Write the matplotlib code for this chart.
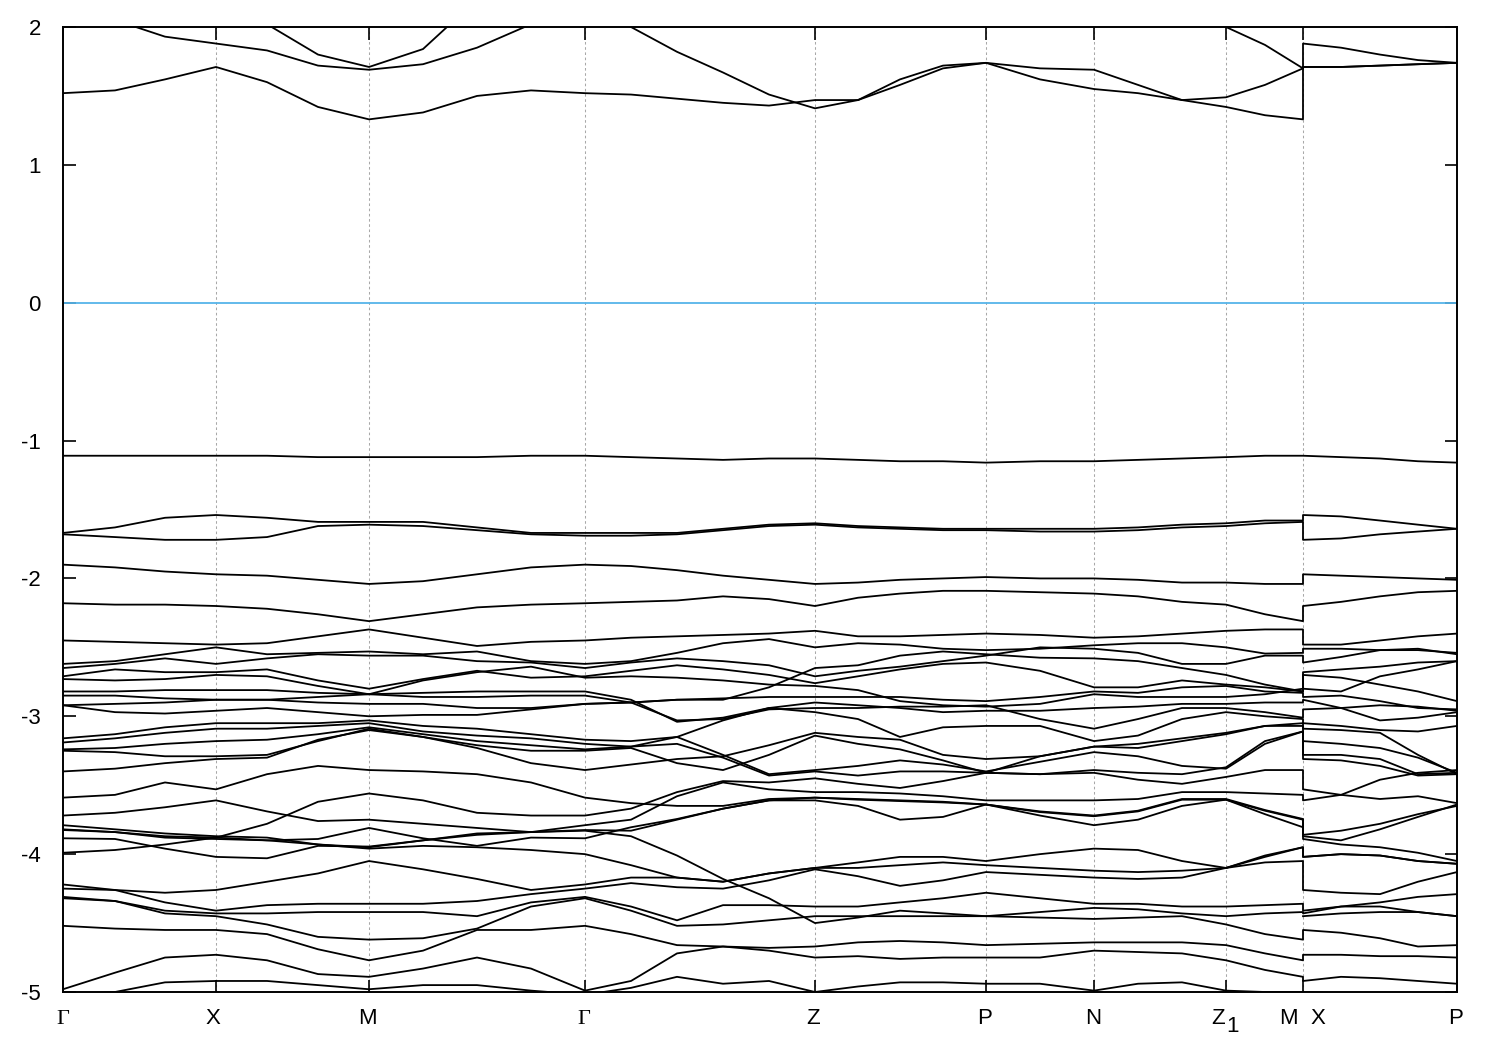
import numpy as np
import matplotlib
matplotlib.use("Agg")
import matplotlib.pyplot as plt

nan = float("nan")

# k-path position (arbitrary path units); the k value repeats at the M|X break
k_path = [0, 52, 102, 153, 204, 255, 306, 360, 414, 468, 522, 568, 614, 660, 706, 752, 795, 837, 880, 923,
          977, 1031, 1075, 1119, 1163, 1202, 1240, 1240, 1278, 1317, 1355, 1394]
k_ticks = [0, 153, 306, 522, 752, 923, 1031, 1163, 1240, 1394]
tick_names = ["Γ", "X", "M", "Γ", "Z", "P", "N", "Z", "M", "X", "P"]
energy_ticks = [2, 1, 0, -1, -2, -3, -4, -5]
fermi_level = [0.0]

# conduction bands (eV)
c1 = [1.52,1.54,1.62,1.71,1.60,1.42,1.33,1.38,1.50,1.54,1.52,1.51,1.48,1.45,1.43,1.47,1.47,1.62,1.72,1.74,1.70,1.69,1.58,1.47,1.49,1.58,1.70, 1.71,1.71,1.72,1.73,1.74]
c2 = [2.3,2.05,1.93,1.88,1.83,1.72,1.69,1.73,1.85,2.02,2.2,2.0,1.82,1.67,1.51,1.41,1.47,1.58,1.70,1.74,1.62,1.55,1.52,1.47,1.42,1.36,1.33, 1.88,1.85,1.80,1.76,1.74]
c3 = [3.2,2.9,2.6,2.35,2.02,1.80,1.71,1.84,2.2,2.6,2.9,2.9,2.7,2.6,2.5,2.4,2.4,2.4,2.4,2.4,2.4,2.4,2.4,2.3,2.0,1.87,1.70, 1.71,1.71,1.72,1.73,1.74]

# valence bands (eV)
v1 = [-1.11,-1.11,-1.11,-1.11,-1.11,-1.12,-1.12,-1.12,-1.12,-1.11,-1.11,-1.12,-1.13,-1.14,-1.13,-1.13,-1.14,-1.15,-1.15,-1.16,-1.15,-1.15,-1.14,-1.13,-1.12,-1.11,-1.11, -1.11,-1.12,-1.13,-1.15,-1.16]
v2 = [-1.67,-1.63,-1.56,-1.54,-1.56,-1.59,-1.59,-1.59,-1.63,-1.67,-1.67,-1.67,-1.67,-1.64,-1.61,-1.60,-1.62,-1.63,-1.64,-1.64,-1.64,-1.64,-1.63,-1.61,-1.60,-1.58,-1.58, -1.54,-1.55,-1.58,-1.61,-1.64]
v3 = [-1.68,-1.70,-1.72,-1.72,-1.70,-1.62,-1.61,-1.62,-1.65,-1.68,-1.69,-1.69,-1.68,-1.65,-1.62,-1.61,-1.63,-1.64,-1.65,-1.65,-1.66,-1.66,-1.65,-1.63,-1.62,-1.60,-1.59, -1.72,-1.71,-1.68,-1.66,-1.64]
v4 = [-1.90,-1.92,-1.95,-1.97,-1.98,-2.01,-2.04,-2.02,-1.97,-1.92,-1.90,-1.91,-1.94,-1.98,-2.01,-2.04,-2.03,-2.01,-2.00,-1.99,-2.00,-2.00,-2.01,-2.03,-2.03,-2.04,-2.04, -1.97,-1.98,-1.99,-2.00,-2.01]
v5 = [-2.18,-2.19,-2.19,-2.20,-2.22,-2.26,-2.31,-2.26,-2.21,-2.19,-2.18,-2.17,-2.16,-2.13,-2.15,-2.20,-2.14,-2.11,-2.09,-2.09,-2.10,-2.11,-2.13,-2.17,-2.19,-2.26,-2.31, -2.20,-2.17,-2.13,-2.10,-2.09]
v6 = [-2.45,-2.46,-2.47,-2.48,-2.47,-2.42,-2.37,-2.43,-2.49,-2.46,-2.45,-2.43,-2.42,-2.41,-2.40,-2.38,-2.42,-2.42,-2.41,-2.40,-2.41,-2.43,-2.42,-2.40,-2.38,-2.37,-2.37, -2.48,-2.48,-2.45,-2.42,-2.40]
v7 = [-2.62,-2.60,-2.55,-2.50,-2.55,-2.54,-2.53,-2.55,-2.53,-2.60,-2.62,-2.60,-2.54,-2.47,-2.44,-2.50,-2.47,-2.48,-2.51,-2.52,-2.51,-2.485,-2.47,-2.47,-2.50,-2.545,-2.54, -2.51,-2.51,-2.52,-2.51,-2.55]
v8 = [-2.65,-2.62,-2.58,-2.62,-2.58,-2.55,-2.56,-2.56,-2.60,-2.61,-2.65,-2.61,-2.58,-2.60,-2.63,-2.71,-2.67,-2.64,-2.60,-2.56,-2.50,-2.51,-2.54,-2.62,-2.62,-2.56,-2.56, -2.61,-2.57,-2.52,-2.52,-2.54]
v9 = [-2.71,-2.66,-2.68,-2.68,-2.66,-2.74,-2.80,-2.73,-2.67,-2.72,-2.71,-2.67,-2.63,-2.66,-2.70,-2.76,-2.71,-2.66,-2.62,-2.61,-2.67,-2.79,-2.79,-2.74,-2.77,-2.79,-2.82, -2.80,-2.82,-2.71,-2.66,-2.60]
v10 = [-2.73,-2.74,-2.73,-2.70,-2.71,-2.78,-2.84,-2.74,-2.68,-2.64,-2.72,-2.71,-2.72,-2.74,-2.77,-2.78,-2.81,-2.89,-2.92,-2.93,-2.91,-2.84,-2.86,-2.86,-2.86,-2.84,-2.80, -2.68,-2.66,-2.64,-2.61,-2.60]
v11 = [-2.92,-2.97,-2.98,-2.96,-2.94,-2.97,-3.00,-2.99,-2.99,-2.95,-2.91,-2.90,-2.88,-2.88,-2.79,-2.65,-2.63,-2.56,-2.53,-2.55,-2.575,-2.58,-2.60,-2.65,-2.70,-2.77,-2.82, -2.70,-2.72,-2.77,-2.82,-2.89]
v12 = [-2.92,-2.91,-2.90,-2.88,-2.88,-2.90,-2.91,-2.91,-2.94,-2.94,-2.91,-2.90,-2.88,-2.87,-2.86,-2.86,-2.86,-2.86,-2.88,-2.89,-2.86,-2.82,-2.83,-2.79,-2.78,-2.82,-2.83, -2.86,-2.85,-2.89,-2.94,-2.95]
v13 = [-2.82,-2.82,-2.81,-2.81,-2.81,-2.83,-2.84,-2.83,-2.82,-2.82,-2.82,-2.88,-3.04,-3.01,-2.94,-2.90,-2.92,-2.94,-2.97,-2.96,-2.96,-2.94,-2.93,-2.91,-2.91,-2.90,-2.90, -2.88,-2.94,-3.03,-3.01,-2.97]
v14 = [-2.85,-2.85,-2.87,-2.88,-2.88,-2.86,-2.84,-2.86,-2.86,-2.85,-2.85,-2.90,-3.03,-3.02,-2.95,-2.94,-2.94,-2.93,-2.93,-2.92,-3.02,-3.09,-3.02,-2.94,-2.94,-2.97,-3.01, -2.95,-2.94,-2.92,-2.93,-2.96]
v15 = [-3.16,-3.13,-3.08,-3.05,-3.05,-3.05,-3.03,-3.07,-3.09,-3.13,-3.17,-3.18,-3.15,-3.03,-2.94,-2.97,-3.02,-3.15,-3.08,-3.07,-3.07,-3.18,-3.14,-3.02,-2.97,-3.00,-3.02, -3.05,-3.07,-3.10,-3.11,-3.07]
v16 = [-3.19,-3.16,-3.12,-3.09,-3.09,-3.07,-3.05,-3.11,-3.14,-3.16,-3.20,-3.22,-3.15,-3.28,-3.42,-3.39,-3.36,-3.32,-3.35,-3.40,-3.33,-3.26,-3.29,-3.36,-3.38,-3.20,-3.11, -3.28,-3.28,-3.31,-3.42,-3.41]
v17 = [-3.24,-3.23,-3.20,-3.18,-3.17,-3.13,-3.08,-3.13,-3.18,-3.21,-3.24,-3.22,-3.20,-3.30,-3.43,-3.40,-3.43,-3.40,-3.40,-3.41,-3.42,-3.39,-3.41,-3.42,-3.37,-3.18,-3.11, -3.31,-3.32,-3.36,-3.43,-3.42]
v18 = [-3.25,-3.26,-3.29,-3.29,-3.28,-3.18,-3.09,-3.15,-3.21,-3.25,-3.25,-3.23,-3.34,-3.39,-3.28,-3.14,-3.20,-3.24,-3.32,-3.41,-3.29,-3.22,-3.20,-3.16,-3.12,-3.07,-3.05, -3.09,-3.10,-3.12,-3.28,-3.42]
v19 = [-3.40,-3.38,-3.34,-3.31,-3.30,-3.17,-3.10,-3.15,-3.23,-3.34,-3.39,-3.35,-3.31,-3.29,-3.21,-3.12,-3.15,-3.17,-3.28,-3.31,-3.29,-3.22,-3.23,-3.18,-3.13,-3.07,-3.07, -3.18,-3.20,-3.23,-3.30,-3.41]
v20 = [-3.99,-3.97,-3.93,-3.88,-3.78,-3.62,-3.56,-3.61,-3.70,-3.72,-3.72,-3.67,-3.55,-3.47,-3.48,-3.45,-3.49,-3.52,-3.47,-3.41,-3.42,-3.41,-3.46,-3.49,-3.44,-3.39,-3.39, -3.53,-3.57,-3.60,-3.58,-3.63]
v21 = [-3.72,-3.70,-3.66,-3.61,-3.69,-3.76,-3.75,-3.78,-3.81,-3.84,-3.79,-3.75,-3.58,-3.48,-3.53,-3.55,-3.55,-3.56,-3.58,-3.61,-3.61,-3.61,-3.60,-3.55,-3.55,-3.56,-3.57, -3.61,-3.57,-3.46,-3.41,-3.39]
v22 = [-3.79,-3.82,-3.85,-3.87,-3.88,-3.93,-3.95,-3.90,-3.85,-3.84,-3.83,-3.87,-4.01,-4.18,-4.32,-4.50,-4.46,-4.41,-4.43,-4.45,-4.42,-4.39,-4.40,-4.43,-4.45,-4.43,-4.42, -4.43,-4.38,-4.38,-4.42,-4.45]
v23 = [-3.82,-3.84,-3.88,-3.89,-3.90,-3.93,-3.96,-3.94,-3.95,-3.97,-4.00,-4.08,-4.17,-4.20,-4.14,-4.10,-4.06,-4.02,-4.02,-4.05,-4.00,-3.96,-3.97,-4.05,-4.10,-4.01,-3.95, -4.02,-4.00,-4.01,-4.05,-4.07]
v24 = [-3.885,-3.89,-3.96,-4.02,-4.03,-3.94,-3.945,-3.90,-3.86,-3.84,-3.825,-3.83,-3.75,-3.67,-3.61,-3.59,-3.605,-3.615,-3.625,-3.64,-3.695,-3.725,-3.69,-3.605,-3.605,-3.685,-3.75, -3.87,-3.90,-3.82,-3.73,-3.64]
v25 = [-3.59,-3.57,-3.48,-3.53,-3.42,-3.36,-3.39,-3.40,-3.42,-3.48,-3.59,-3.63,-3.65,-3.65,-3.60,-3.59,-3.60,-3.61,-3.62,-3.64,-3.69,-3.72,-3.685,-3.60,-3.60,-3.68,-3.745, -3.86,-3.83,-3.78,-3.71,-3.65]
v26 = [-3.825,-3.84,-3.87,-3.88,-3.90,-3.89,-3.81,-3.885,-3.94,-3.88,-3.885,-3.805,-3.745,-3.67,-3.61,-3.61,-3.65,-3.75,-3.73,-3.64,-3.72,-3.79,-3.75,-3.65,-3.605,-3.71,-3.805, -3.89,-3.93,-3.95,-3.99,-4.05]
v27 = [-4.22,-4.26,-4.28,-4.26,-4.20,-4.14,-4.05,-4.11,-4.18,-4.26,-4.22,-4.17,-4.17,-4.20,-4.14,-4.10,-4.10,-4.08,-4.06,-4.08,-4.10,-4.12,-4.13,-4.12,-4.10,-4.06,-4.05, -4.26,-4.28,-4.29,-4.20,-4.13]
v28 = [-4.25,-4.26,-4.35,-4.41,-4.37,-4.36,-4.36,-4.36,-4.34,-4.29,-4.25,-4.21,-4.24,-4.25,-4.19,-4.11,-4.16,-4.23,-4.19,-4.13,-4.15,-4.17,-4.18,-4.17,-4.10,-4.02,-3.95, -4.02,-4.00,-4.01,-4.05,-4.07]
v29 = [-4.31,-4.34,-4.41,-4.43,-4.43,-4.42,-4.42,-4.42,-4.45,-4.35,-4.31,-4.38,-4.48,-4.37,-4.37,-4.38,-4.38,-4.35,-4.32,-4.28,-4.32,-4.36,-4.36,-4.38,-4.38,-4.37,-4.36, -4.41,-4.38,-4.35,-4.31,-4.29]
v30 = [-4.32,-4.34,-4.43,-4.45,-4.51,-4.60,-4.62,-4.61,-4.54,-4.38,-4.32,-4.41,-4.52,-4.51,-4.48,-4.45,-4.45,-4.45,-4.45,-4.45,-4.46,-4.47,-4.46,-4.45,-4.51,-4.58,-4.62, -4.55,-4.57,-4.61,-4.67,-4.66]
v31 = [-4.52,-4.54,-4.55,-4.55,-4.58,-4.69,-4.77,-4.70,-4.55,-4.55,-4.52,-4.58,-4.66,-4.67,-4.70,-4.75,-4.74,-4.76,-4.75,-4.75,-4.75,-4.70,-4.71,-4.72,-4.77,-4.84,-4.89, -4.92,-4.89,-4.90,-4.92,-4.94]
v32 = [-4.98,-4.86,-4.75,-4.73,-4.77,-4.87,-4.89,-4.83,-4.75,-4.83,-4.99,-4.92,-4.72,-4.67,-4.68,-4.67,-4.64,-4.63,-4.64,-4.66,-4.65,-4.64,-4.64,-4.64,-4.66,-4.72,-4.77, -4.73,-4.73,-4.74,-4.74,-4.75]
v33 = [-5.02,-5.00,-4.93,-4.92,-4.92,-4.95,-4.98,-4.95,-4.95,-4.99,-5.02,-4.97,-4.89,-4.94,-4.92,-5.00,-4.96,-4.93,-4.93,-4.94,-4.94,-4.99,-4.94,-4.93,-4.99,-5.00,-5.00, -5.00,-5.01,-5.02,-5.02,-5.02]
v34 = [nan]*27 + [-4.45,-4.43,-4.42,-4.42,-4.45]

bands = [c1, c2, c3, v1, v2, v3, v4, v5, v6, v7, v8, v9, v10, v11, v12, v13, v14, v15, v16, v17,
         v18, v19, v20, v21, v22, v23, v24, v25, v26, v27, v28, v29, v30, v31, v32, v33, v34]

plt.rcParams["font.family"] = ["Liberation Sans", "DejaVu Sans"]
fig = plt.figure(figsize=(15, 10.5), dpi=100)
ax = fig.add_axes([63 / 1500, 1 - 992 / 1050, (1457 - 63) / 1500, (992 - 27) / 1050])

for t in k_ticks[1:-1]:
    ax.axvline(t, color="#a8a8a8", lw=0.75, ls=(0, (2.5, 2.5)), zorder=1)
ax.axhline(fermi_level[0], color="#56b4e9", lw=1.3, zorder=2)
for b in bands:
    ax.plot(k_path, b, color="black", lw=1.3, solid_joinstyle="round", zorder=3)

ax.set_xlim(0, 1394)
ax.set_ylim(-5, 2)
ax.set_yticks(energy_ticks)
ax.set_yticklabels([str(v) for v in energy_ticks], fontsize=16)
ax.set_xticks(k_ticks)
ax.set_xticklabels([])
ax.tick_params(axis="both", which="major", direction="in", length=9, width=1.2,
               top=True, right=True, pad=16, color="black")
for s in ax.spines.values():
    s.set_linewidth(1.4)

# k-point labels: placed beside their ticks as in the reference
label_px = [63, 213, 367, 584, 813, 985, 1093, 1218, 1288, 1318, 1456]
for name, px in zip(tick_names, label_px):
    fam = ["Liberation Serif", "DejaVu Serif"] if name == "Γ" else ["Liberation Sans", "DejaVu Sans"]
    fig.text(px / 1500, 1 - 1019 / 1050, name, ha="center", va="center", fontsize=16, family=fam)
fig.text(1233 / 1500, 1 - 1027 / 1050, "1", ha="center", va="center", fontsize=16)

fig.savefig("out.png", dpi=100)
